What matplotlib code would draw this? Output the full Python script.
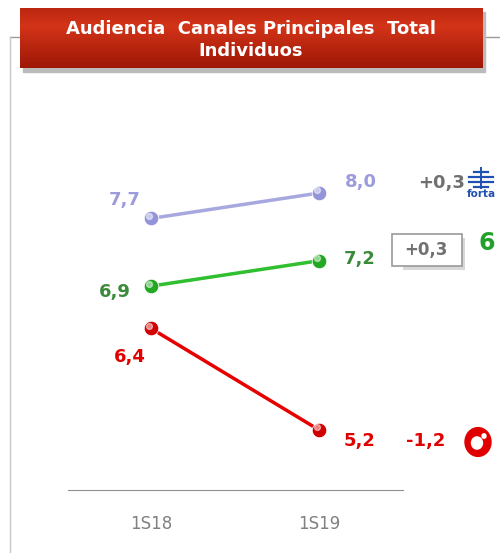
import numpy as np
import matplotlib.pyplot as plt
from matplotlib.colors import LinearSegmentedColormap
from matplotlib.patches import Rectangle, Circle
from matplotlib.lines import Line2D

periods = ['1S18', '1S19']
forta = [7.7, 8.0]
lasexta = [6.9, 7.2]
cuatro = [6.4, 5.2]
diffs = ['+0,3', '+0,3', '-1,2']

W, H = 500, 553
fig = plt.figure(figsize=(W / 100, H / 100), dpi=100)
fig.patch.set_facecolor('white')

def fx(px):
    return px / W

def fy(py):
    return 1 - py / H

# frame lines behind the title
fig.add_artist(Line2D([fx(10), fx(500)], [fy(37), fy(37)], color='#9a9a9a', lw=1, zorder=-5))
fig.add_artist(Line2D([fx(10), fx(10)], [fy(37), fy(553)], color='#c8c8c8', lw=1, zorder=-5))
fig.add_artist(Rectangle((fx(23), fy(72)), fx(462), fy(8) - fy(68), color='#bbbbbb',
                         zorder=-4, transform=fig.transFigure))

# title banner with gradient
tax = fig.add_axes([fx(20), fy(68), fx(462), fy(8) - fy(68)], zorder=5)
grad = np.linspace(0, 1, 60).reshape(-1, 1)
grad = 1 - np.abs(grad - 0.3) * 1.1
cmap = LinearSegmentedColormap.from_list('r', ['#9e1606', '#d23418'])
tax.imshow(grad, aspect='auto', cmap=cmap, extent=[0, 1, 0, 1])
tax.set_xlim(0, 1)
tax.set_ylim(0, 1)
tax.axis('off')
tax.text(0.5, 0.47, 'Audiencia  Canales Principales  Total\nIndividuos', ha='center', va='center',
         color='white', fontsize=13, fontweight='bold', linespacing=1.25)

# main chart
ax = fig.add_axes([fx(68), fy(490), fx(403) - fx(68), fy(130) - fy(490)])
ax.set_xlim(-0.494, 1.5)
ax.set_ylim(4.49, 8.745)
x = np.arange(len(periods))

series = [
    (forta, '#a8a8e0', '#9494da'),
    (lasexta, '#2fbf2f', '#22a822'),
    (cuatro, '#e60000', '#d00000'),
]
for vals, lc, mc in series:
    ax.plot(x, vals, color=lc, lw=2.5, zorder=2)
    ax.scatter(x, vals, s=110, color=mc, edgecolor='white', linewidth=0.6, zorder=3)
    ax.scatter(x - 0.012, np.array(vals) + 0.03, s=18, color='white', alpha=0.5, zorder=4)

def lab(v):
    return f'{v:.1f}'.replace('.', ',')

kw = dict(fontsize=13, fontweight='bold', va='center')
ax.text(-0.06, forta[0] + 0.22, lab(forta[0]), color='#9c9cdc', ha='right', **kw)
ax.text(1.155, forta[1] + 0.13, lab(forta[1]), color='#9c9cdc', ha='left', **kw)
ax.text(-0.12, lasexta[0] - 0.07, lab(lasexta[0]), color='#3a8a3a', ha='right', **kw)
ax.text(1.145, lasexta[1] + 0.02, lab(lasexta[1]), color='#3a8a3a', ha='left', **kw)
ax.text(-0.03, cuatro[0] - 0.34, lab(cuatro[0]), color='#e00000', ha='right', **kw)
ax.text(1.145, cuatro[1] - 0.13, lab(cuatro[1]), color='#e00000', ha='left', **kw)

for s in ['top', 'right', 'left']:
    ax.spines[s].set_visible(False)
ax.spines['bottom'].set_color('#909090')
ax.set_yticks([])
ax.set_xticks(x)
ax.set_xticklabels(periods, color='#808080', fontsize=12)
ax.tick_params(axis='x', length=0, pad=18)

# differences on the right
fig.text(fx(442), fy(183), diffs[0], color='#707070', fontsize=13, fontweight='bold', ha='center', va='center')
fig.add_artist(Rectangle((fx(392), fy(266)), fx(70), fy(234) - fy(266), transform=fig.transFigure,
                         facecolor='white', edgecolor='#999999', lw=1.2))
fig.add_artist(Rectangle((fx(395), fy(270)), fx(70), fy(234) - fy(266), transform=fig.transFigure,
                         facecolor='#d8d8d8', edgecolor='none', zorder=-1))
fig.text(fx(426), fy(250), diffs[1], color='#707070', fontsize=12, fontweight='bold', ha='center', va='center')
fig.text(fx(426), fy(441), diffs[2], color='#e00000', fontsize=13, fontweight='bold', ha='center', va='center')

# channel logos (simplified)
for yy, w in [(172, 14), (177, 24), (182, 24), (187, 14)]:
    fig.add_artist(Line2D([fx(481 - w / 2), fx(481 + w / 2)], [fy(yy), fy(yy)], color='#2050b0', lw=1.6))
fig.add_artist(Line2D([fx(481), fx(481)], [fy(168), fy(188)], color='#2050b0', lw=1.4))
fig.text(fx(481), fy(194), 'forta', color='#2050b0', fontsize=7.5, fontweight='bold', ha='center', va='center')
fig.text(fx(487), fy(243), '6', color='#22a02a', fontsize=17, fontweight='bold', ha='center', va='center')
fig.add_artist(Circle((fx(478), fy(442)), 0.026, transform=fig.transFigure, color='#e00000'))
fig.add_artist(Circle((fx(477), fy(443)), 0.011, transform=fig.transFigure, color='white'))
fig.add_artist(Circle((fx(484), fy(436)), 0.004, transform=fig.transFigure, color='white'))

fig.savefig('out.png', dpi=100)
